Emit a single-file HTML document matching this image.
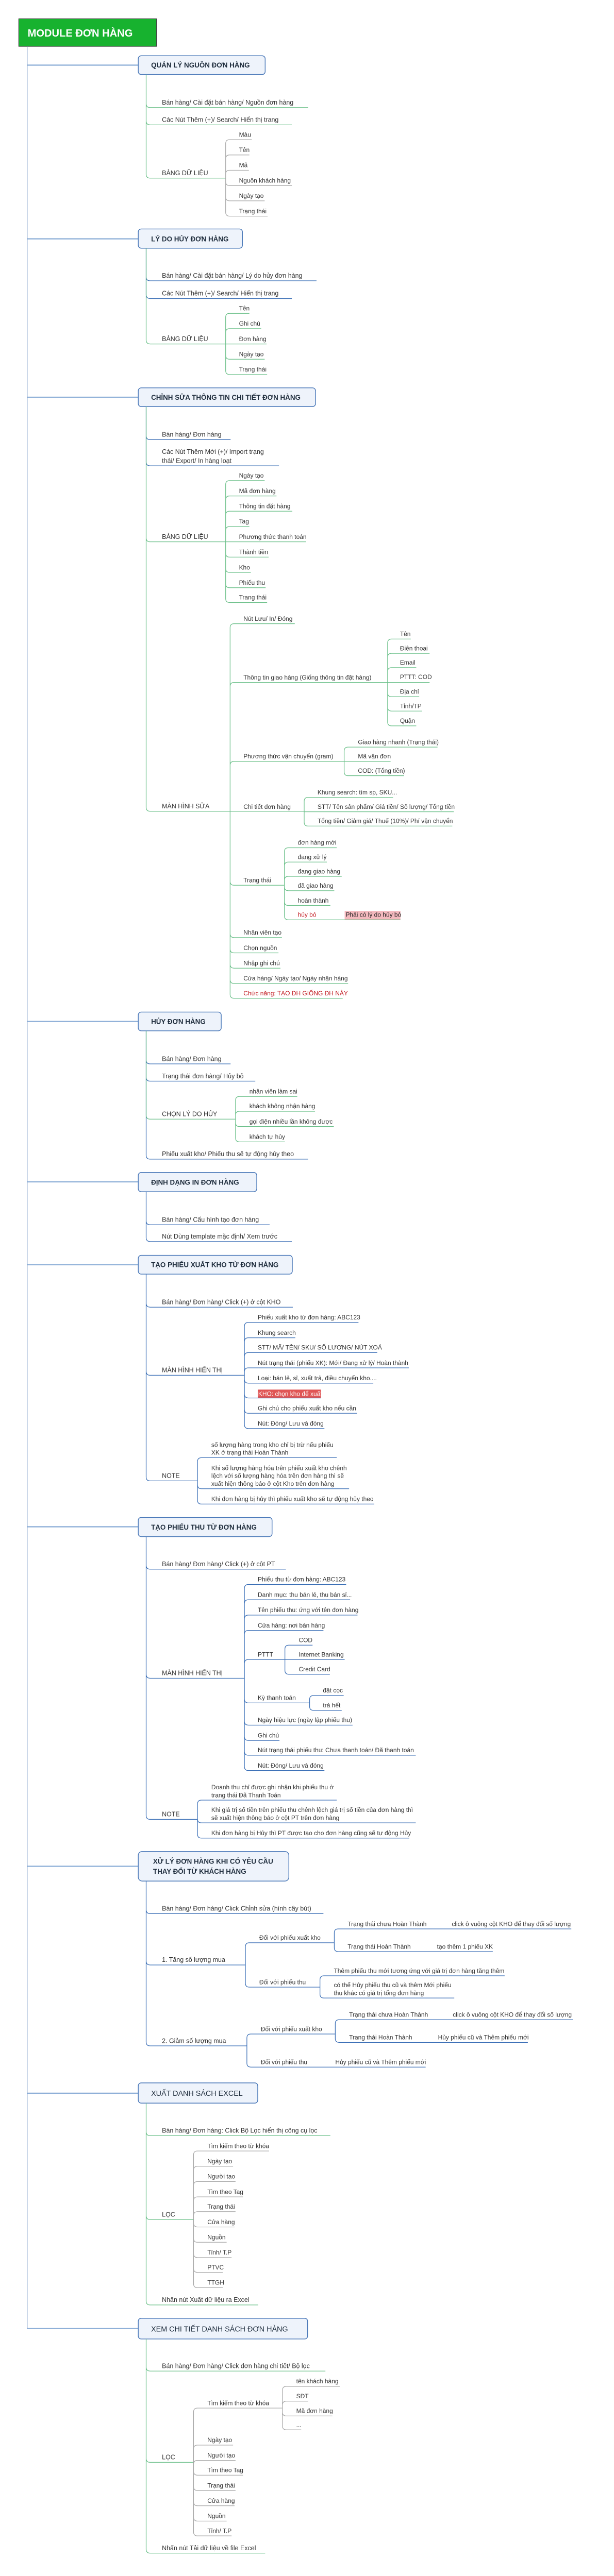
<!DOCTYPE html>
<html><head><meta charset="utf-8">
<style>
html,body{margin:0;padding:0;background:#fff;overflow:hidden;}
svg{display:block;width:1141px;height:4993px;}
text{font-family:"Liberation Sans",Arial,sans-serif;fill:#333;}
.t{font-size:12.5px;}
.t2{font-size:13px;}
.bx{font-size:14px;font-weight:bold;fill:#1f2d3d;}
.bn{font-size:15px;fill:#1f2d3d;}
.g{fill:none;stroke:#6cc08a;stroke-width:1.3;}
.b{fill:none;stroke:#3b6fb6;stroke-width:1.3;}
.y{fill:none;stroke:#a3a3a3;stroke-width:1.2;}
.m{fill:none;stroke:#8fb0d8;stroke-width:2.5;}
.box{fill:#eef3fb;stroke:#4a78b8;stroke-width:1.5;}
.red{fill:#c0141b;}
</style></head><body>
<svg viewBox="0 0 1191 5213" preserveAspectRatio="xMinYMin meet" xmlns="http://www.w3.org/2000/svg">
<rect x="38" y="38" width="279" height="56" fill="#17b22f" stroke="#3a3a3a" stroke-width="1.2"/>
<text x="56" y="74" style="font-size:21px;font-weight:bold;fill:#fff">MODULE ĐƠN HÀNG</text>
<path d="M55 94V4719" fill="none" stroke="#6f8fc0" stroke-width="1.2"/>
<path class="m" d="M55 132H280M55 484H280M55 805H280M55 2070H280M55 2395H280M55 2563H280M55 3094H280M55 3782H280M55 4242H280M55 4719H280"/>

<rect class="box" x="280" y="113" width="257" height="38" rx="6"/>
<text class="bx" x="306" y="137">QUẢN LÝ NGUỒN ĐƠN HÀNG</text>
<path class="g" d="M296 151V210Q296 218 304 218H624M296 151V245Q296 253 304 253H591M296 151V353Q296 361 304 361H457"/>
<text class="t2" x="328" y="212">Bán hàng/ Cài đặt bán hàng/ Nguồn đơn hàng</text>
<text class="t2" x="328" y="247">Các Nút Thêm (+)/ Search/ Hiển thị trang</text>
<text class="t2" x="328" y="355">BẢNG DỮ LIỆU</text>
<path class="y" d="M457 361V291Q457 283 465 283H510M457 361V322Q457 314 465 314H505M457 361V353Q457 345 465 345H504M457 361V368Q457 376 465 376H591M457 361V399Q457 407 465 407H536M457 361V430Q457 438 465 438H542"/>
<text class="t" x="484" y="277">Màu</text>
<text class="t" x="484" y="308">Tên</text>
<text class="t" x="484" y="339">Mã</text>
<text class="t" x="484" y="370">Nguồn khách hàng</text>
<text class="t" x="484" y="401">Ngày tạo</text>
<text class="t" x="484" y="432">Trạng thái</text>

<rect class="box" x="280" y="464" width="211" height="39" rx="6"/>
<text class="bx" x="306" y="489">LÝ DO HỦY ĐƠN HÀNG</text>
<path class="b" d="M296 503V561Q296 569 304 569H641M296 503V597Q296 605 304 605H591"/>
<path class="g" d="M296 503V689Q296 697 304 697H457"/>
<text class="t2" x="328" y="563">Bán hàng/ Cài đặt bán hàng/ Lý do hủy đơn hàng</text>
<text class="t2" x="328" y="599">Các Nút Thêm (+)/ Search/ Hiển thị trang</text>
<text class="t2" x="328" y="691">BẢNG DỮ LIỆU</text>
<path class="g" d="M457 697V643Q457 635 465 635H505M457 697V674Q457 666 465 666H529M457 697H540M457 697V720Q457 728 465 728H536M457 697V751Q457 759 465 759H541"/>
<text class="t" x="484" y="629">Tên</text>
<text class="t" x="484" y="660">Ghi chú</text>
<text class="t" x="484" y="691">Đơn hàng</text>
<text class="t" x="484" y="722">Ngày tạo</text>
<text class="t" x="484" y="753">Trạng thái</text>

<rect class="box" x="280" y="786" width="359" height="38" rx="6"/>
<text class="bx" x="306" y="810">CHỈNH SỬA THÔNG TIN CHI TIẾT ĐƠN HÀNG</text>
<path class="b" d="M296 824V883Q296 891 304 891H467M296 824V936Q296 944 304 944H565"/>
<path class="g" d="M296 824V1090Q296 1098 304 1098H457M296 824V1636Q296 1644 304 1644H466"/>
<text class="t2" x="328" y="885">Bán hàng/ Đơn hàng</text>
<text class="t2" x="328" y="920">Các Nút Thêm Mới (+)/ Import trạng</text>
<text class="t2" x="328" y="938">thái/ Export/ In hàng loạt</text>
<text class="t2" x="328" y="1092">BẢNG DỮ LIỆU</text>
<path class="g" d="M457 1098V982Q457 974 465 974H536M457 1098V1013Q457 1005 465 1005H560M457 1098V1044Q457 1036 465 1036H592M457 1098V1075Q457 1067 465 1067H505M457 1098H620M457 1098V1121Q457 1129 465 1129H544M457 1098V1152Q457 1160 465 1160H508M457 1098V1183Q457 1191 465 1191H538M457 1098V1213Q457 1221 465 1221H541"/>
<text class="t" x="484" y="968">Ngày tạo</text>
<text class="t" x="484" y="999">Mã đơn hàng</text>
<text class="t" x="484" y="1030">Thông tin đặt hàng</text>
<text class="t" x="484" y="1061">Tag</text>
<text class="t" x="484" y="1092">Phương thức thanh toán</text>
<text class="t" x="484" y="1123">Thành tiền</text>
<text class="t" x="484" y="1154">Kho</text>
<text class="t" x="484" y="1185">Phiếu thu</text>
<text class="t" x="484" y="1215">Trạng thái</text>
<text class="t2" x="328" y="1638">MÀN HÌNH SỬA</text>
<path class="g" d="M466 1644V1272Q466 1264 474 1264H597M466 1644V1391Q466 1383 474 1383H785M466 1644V1551Q466 1543 474 1543H697M466 1644H616M466 1644V1786Q466 1794 474 1794H576M466 1644V1892Q466 1900 474 1900H571M466 1644V1923Q466 1931 474 1931H564M466 1644V1954Q466 1962 474 1962H568M466 1644V1985Q466 1993 474 1993H705M466 1644V2015Q466 2023 474 2023H694"/>
<text class="t" x="493" y="1258">Nút Lưu/ In/ Đóng</text>
<text class="t" x="493" y="1377">Thông tin giao hàng (Giống thông tin đặt hàng)</text>
<text class="t" x="493" y="1537">Phương thức vận chuyển (gram)</text>
<text class="t" x="493" y="1639">Chi tiết đơn hàng</text>
<text class="t" x="493" y="1788">Trạng thái</text>
<text class="t" x="493" y="1894">Nhân viên tạo</text>
<text class="t" x="493" y="1925">Chọn nguồn</text>
<text class="t" x="493" y="1956">Nhập ghi chú</text>
<text class="t" x="493" y="1987">Cửa hàng/ Ngày tạo/ Ngày nhận hàng</text>
<text class="t red" x="493" y="2017">Chức năng: TẠO ĐH GIỐNG ĐH NÀY</text>
<path class="g" d="M785 1383V1303Q785 1295 793 1295H832M785 1383V1332Q785 1324 793 1324H870M785 1383V1361Q785 1353 793 1353H843M785 1383H870M785 1383V1404Q785 1412 793 1412H849M785 1383V1433Q785 1441 793 1441H855M785 1383V1463Q785 1471 793 1471H843"/>
<text class="t" x="810" y="1289">Tên</text>
<text class="t" x="810" y="1318">Điện thoại</text>
<text class="t" x="810" y="1347">Email</text>
<text class="t" x="810" y="1376">PTTT: COD</text>
<text class="t" x="810" y="1406">Địa chỉ</text>
<text class="t" x="810" y="1435">Tỉnh/TP</text>
<text class="t" x="810" y="1465">Quận</text>
<path class="g" d="M697 1543V1522Q697 1514 705 1514H886M697 1543H791M697 1543V1564Q697 1572 705 1572H818"/>
<text class="t" x="725" y="1508">Giao hàng nhanh (Trạng thái)</text>
<text class="t" x="725" y="1537">Mã vận đơn</text>
<text class="t" x="725" y="1566">COD: (Tổng tiền)</text>
<path class="g" d="M616 1645V1624Q616 1616 624 1616H796M616 1645H919M616 1645V1666Q616 1674 624 1674H916"/>
<text class="t" x="643" y="1610">Khung search: tìm sp, SKU...</text>
<text class="t" x="643" y="1639">STT/ Tên sản phẩm/ Giá tiền/ Số lượng/ Tổng tiền</text>
<text class="t" x="643" y="1668">Tổng tiền/ Giảm giá/ Thuế (10%)/ Phí vận chuyển</text>
<rect x="698" y="1846" width="113" height="18" fill="#f4b9be"/>
<path class="g" d="M576 1794V1726Q576 1718 584 1718H682M576 1794V1755Q576 1747 584 1747H662M576 1794V1784Q576 1776 584 1776H692M576 1794V1797Q576 1805 584 1805H677M576 1794V1827Q576 1835 584 1835H669M576 1794V1856Q576 1864 584 1864H811"/>
<text class="t" x="603" y="1712">đơn hàng mới</text>
<text class="t" x="603" y="1741">đang xử lý</text>
<text class="t" x="603" y="1770">đang giao hàng</text>
<text class="t" x="603" y="1799">đã giao hàng</text>
<text class="t" x="603" y="1829">hoàn thành</text>
<text class="t red" x="603" y="1858">hủy bỏ</text>
<text class="t" x="700" y="1858" style="fill:#222">Phải có lý do hủy bỏ</text>

<rect class="box" x="280" y="2051" width="168" height="38" rx="6"/>
<text class="bx" x="306" y="2075">HỦY ĐƠN HÀNG</text>
<path class="b" d="M296 2089V2148Q296 2156 304 2156H467M296 2089V2183Q296 2191 304 2191H517M296 2089V2341Q296 2349 304 2349H624"/>
<path class="g" d="M296 2089V2260Q296 2268 304 2268H477"/>
<text class="t2" x="328" y="2150">Bán hàng/ Đơn hàng</text>
<text class="t2" x="328" y="2185">Trạng thái đơn hàng/ Hủy bỏ</text>
<text class="t2" x="328" y="2262">CHỌN LÝ DO HỦY</text>
<text class="t2" x="328" y="2343">Phiếu xuất kho/ Phiếu thu sẽ tự động hủy theo</text>
<path class="g" d="M477 2268V2230Q477 2222 485 2222H602M477 2268V2260Q477 2252 485 2252H638M477 2268V2275Q477 2283 485 2283H676M477 2268V2306Q477 2314 485 2314H577"/>
<text class="t" x="505" y="2216">nhân viên làm sai</text>
<text class="t" x="505" y="2246">khách không nhận hàng</text>
<text class="t" x="505" y="2277">gọi điện nhiều lần không được</text>
<text class="t" x="505" y="2308">khách tự hủy</text>

<rect class="box" x="280" y="2376" width="240" height="39" rx="6"/>
<text class="bx" x="306" y="2401">ĐỊNH DẠNG IN ĐƠN HÀNG</text>
<path class="b" d="M296 2415V2474Q296 2482 304 2482H546M296 2415V2508Q296 2516 304 2516H591"/>
<text class="t2" x="328" y="2476">Bán hàng/ Cấu hình tạo đơn hàng</text>
<text class="t2" x="328" y="2510">Nút Dùng template mặc định/ Xem trước</text>

<rect class="box" x="280" y="2544" width="312" height="38" rx="6"/>
<text class="bx" x="306" y="2568">TẠO PHIẾU XUẤT KHO TỪ ĐƠN HÀNG</text>
<path class="b" d="M296 2582V2641Q296 2649 304 2649H593M296 2582V2779Q296 2787 304 2787H495M296 2582V2993Q296 3001 304 3001H400"/>
<text class="t2" x="328" y="2643">Bán hàng/ Đơn hàng/ Click (+) ở cột KHO</text>
<text class="t2" x="328" y="2781">MÀN HÌNH HIỂN THỊ</text>
<text class="t2" x="328" y="2995">NOTE</text>
<rect x="522" y="2816" width="128" height="17" fill="#e05555"/>
<path class="b" d="M495 2787V2688Q495 2680 503 2680H726M495 2787V2719Q495 2711 503 2711H598M495 2787V2749Q495 2741 503 2741H764M495 2787V2780Q495 2772 503 2772H828M495 2787V2795Q495 2803 503 2803H756M495 2787V2825Q495 2833 503 2833H650M495 2787V2856Q495 2864 503 2864H723M495 2787V2887Q495 2895 503 2895H657"/>
<text class="t" x="522" y="2674">Phiếu xuất kho từ đơn hàng: ABC123</text>
<text class="t" x="522" y="2705">Khung search</text>
<text class="t" x="522" y="2735">STT/ MÃ/ TÊN/ SKU/ SỐ LƯỢNG/ NÚT XOÁ</text>
<text class="t" x="522" y="2766">Nút trạng thái (phiếu XK): Mới/ Đang xử lý/ Hoàn thành</text>
<text class="t" x="522" y="2797">Loại: bán lẻ, sỉ, xuất trả, điều chuyển kho....</text>
<text class="t" x="523" y="2829" style="fill:#fff">KHO: chọn kho để xuất</text>
<text class="t" x="522" y="2858">Ghi chú cho phiếu xuất kho nếu cần</text>
<text class="t" x="522" y="2889">Nút: Đóng/ Lưu và đóng</text>
<path class="b" d="M400 3001V2962Q400 2954 408 2954H682M400 3001V3009Q400 3017 408 3017H707M400 3001V3040Q400 3048 408 3048H758"/>
<text class="t" x="428" y="2932">số lượng hàng trong kho chỉ bị trừ nếu phiếu</text>
<text class="t" x="428" y="2948">XK ở trạng thái Hoàn Thành</text>
<text class="t" x="428" y="2979">Khi số lượng hàng hóa trên phiếu xuất kho chênh</text>
<text class="t" x="428" y="2995">lệch với số lượng hàng hóa trên đơn hàng thì sẽ</text>
<text class="t" x="428" y="3011">xuất hiện thông báo ở cột Kho trên đơn hàng</text>
<text class="t" x="428" y="3042">Khi đơn hàng bị hủy thì phiếu xuất kho sẽ tự động hủy theo</text>

<rect class="box" x="280" y="3075" width="271" height="39" rx="6"/>
<text class="bx" x="306" y="3100">TẠO PHIẾU THU TỪ ĐƠN HÀNG</text>
<path class="b" d="M296 3114V3172Q296 3180 304 3180H579M296 3114V3393Q296 3401 304 3401H495M296 3114V3679Q296 3687 304 3687H400"/>
<text class="t2" x="328" y="3174">Bán hàng/ Đơn hàng/ Click (+) ở cột PT</text>
<text class="t2" x="328" y="3395">MÀN HÌNH HIỂN THỊ</text>
<text class="t2" x="328" y="3681">NOTE</text>
<path class="b" d="M495 3401V3219Q495 3211 503 3211H701M495 3401V3250Q495 3242 503 3242H709M495 3401V3281Q495 3273 503 3273H724M495 3401V3312Q495 3304 503 3304H655M495 3401V3371Q495 3363 503 3363H577M495 3401V3443Q495 3451 503 3451H627M495 3401V3488Q495 3496 503 3496H714M495 3401V3519Q495 3527 503 3527H566M495 3401V3549Q495 3557 503 3557H842M495 3401V3580Q495 3588 503 3588H657"/>
<text class="t" x="522" y="3205">Phiếu thu từ đơn hàng: ABC123</text>
<text class="t" x="522" y="3236">Danh mục: thu bán lẻ, thu bán sỉ...</text>
<text class="t" x="522" y="3267">Tên phiếu thu: ứng với tên đơn hàng</text>
<text class="t" x="522" y="3298">Cửa hàng: nơi bán hàng</text>
<text class="t" x="522" y="3357">PTTT</text>
<text class="t" x="522" y="3445">Kỳ thanh toán</text>
<text class="t" x="522" y="3490">Ngày hiệu lực (ngày lập phiếu thu)</text>
<text class="t" x="522" y="3521">Ghi chú</text>
<text class="t" x="522" y="3551">Nút trạng thái phiếu thu: Chưa thanh toán/ Đã thanh toán</text>
<text class="t" x="522" y="3582">Nút: Đóng/ Lưu và đóng</text>
<path class="b" d="M577 3363V3342Q577 3334 585 3334H633M577 3363H698M577 3363V3385Q577 3393 585 3393H668"/>
<text class="t" x="605" y="3328">COD</text>
<text class="t" x="605" y="3357">Internet Banking</text>
<text class="t" x="605" y="3387">Credit Card</text>
<path class="b" d="M627 3451V3444Q627 3436 635 3436H696M627 3451V3458Q627 3466 635 3466H692"/>
<text class="t" x="654" y="3430">đặt cọc</text>
<text class="t" x="654" y="3460">trả hết</text>
<path class="b" d="M400 3687V3656Q400 3648 408 3648H682M400 3687V3686Q400 3694 408 3694H842M400 3687V3717Q400 3725 408 3725H829"/>
<text class="t" x="428" y="3626">Doanh thu chỉ được ghi nhận khi phiếu thu ở</text>
<text class="t" x="428" y="3642">trạng thái Đã Thanh Toán</text>
<text class="t" x="428" y="3672">Khi giá trị số tiền trên phiếu thu chênh lệch giá trị số tiền của đơn hàng thì</text>
<text class="t" x="428" y="3688">sẽ xuất hiện thông báo ở cột PT trên đơn hàng</text>
<text class="t" x="428" y="3719">Khi đơn hàng bị Hủy thì PT được tạo cho đơn hàng cũng sẽ tự động Hủy</text>

<rect class="box" x="280" y="3752" width="305" height="60" rx="8"/>
<text class="bx" x="310" y="3777">XỬ LÝ ĐƠN HÀNG KHI CÓ YÊU CẦU</text>
<text class="bx" x="310" y="3797">THAY ĐỔI TỪ KHÁCH HÀNG</text>
<path class="b" d="M296 3812V3870Q296 3878 304 3878H655M296 3812V3974Q296 3982 304 3982H497M296 3812V4138Q296 4146 304 4146H500"/>
<text class="t2" x="328" y="3872">Bán hàng/ Đơn hàng/ Click Chỉnh sửa (hình cây bút)</text>
<text class="t2" x="328" y="3976">1. Tăng số lượng mua</text>
<text class="t2" x="328" y="4140">2. Giảm số lượng mua</text>
<path class="b" d="M497 3982V3945Q497 3937 505 3937H677M497 3982V4019Q497 4027 505 4027H648"/>
<text class="t" x="525" y="3931">Đối với phiếu xuất kho</text>
<text class="t" x="525" y="4021">Đối với phiếu thu</text>
<path class="b" d="M677 3937V3917Q677 3909 685 3909H1157M677 3937V3947Q677 3955 685 3955H998"/>
<text class="t" x="704" y="3903">Trạng thái chưa Hoàn Thành</text>
<text class="t" x="915" y="3903">click ô vuông cột KHO để thay đổi số lượng</text>
<text class="t" x="704" y="3949">Trạng thái Hoàn Thành</text>
<text class="t" x="885" y="3949">tạo thêm 1 phiếu XK</text>
<path class="b" d="M648 4027V4012Q648 4004 656 4004H1022M648 4027V4041Q648 4049 656 4049H920"/>
<text class="t" x="676" y="3998">Thêm phiếu thu mới tương ứng với giá trị đơn hàng tăng thêm</text>
<text class="t" x="676" y="4027">có thể Hủy phiếu thu cũ và thêm Mới phiếu</text>
<text class="t" x="676" y="4043">thu khác có giá trị tổng đơn hàng</text>
<path class="b" d="M500 4146V4130Q500 4122 508 4122H679M500 4146V4181Q500 4189 508 4189H862"/>
<text class="t" x="528" y="4116">Đối với phiếu xuất kho</text>
<text class="t" x="528" y="4183">Đối với phiếu thu</text>
<text class="t" x="679" y="4183">Hủy phiếu cũ và Thêm phiếu mới</text>
<path class="b" d="M679 4122V4101Q679 4093 687 4093H1160M679 4122V4131Q679 4139 687 4139H1069"/>
<text class="t" x="707" y="4087">Trạng thái chưa Hoàn Thành</text>
<text class="t" x="917" y="4087">click ô vuông cột KHO để thay đổi số lượng</text>
<text class="t" x="707" y="4133">Trạng thái Hoàn Thành</text>
<text class="t" x="887" y="4133">Hủy phiếu cũ và Thêm phiếu mới</text>

<rect class="box" x="280" y="4221" width="242" height="41" rx="6"/>
<text class="bn" x="306" y="4247">XUẤT DANH SÁCH EXCEL</text>
<path class="g" d="M296 4262V4320Q296 4328 304 4328H669M296 4262V4490Q296 4498 304 4498H392M296 4262V4663Q296 4671 304 4671H523"/>
<text class="t2" x="328" y="4322">Bán hàng/ Đơn hàng: Click Bộ Lọc hiển thị công cụ lọc</text>
<text class="t2" x="328" y="4492">LỌC</text>
<text class="t2" x="328" y="4665">Nhấn nút Xuất dữ liệu ra Excel</text>
<path class="y" d="M392 4498V4367Q392 4359 400 4359H545M392 4498V4398Q392 4390 400 4390H472M392 4498V4429Q392 4421 400 4421H477M392 4498V4460Q392 4452 400 4452H492M392 4498V4490Q392 4482 400 4482H477M392 4498V4505Q392 4513 400 4513H475M392 4498V4536Q392 4544 400 4544H459M392 4498V4567Q392 4575 400 4575H469M392 4498V4597Q392 4605 400 4605H451M392 4498V4628Q392 4636 400 4636H451"/>
<text class="t" x="420" y="4353">Tìm kiếm theo từ khóa</text>
<text class="t" x="420" y="4384">Ngày tạo</text>
<text class="t" x="420" y="4415">Người tạo</text>
<text class="t" x="420" y="4446">Tìm theo Tag</text>
<text class="t" x="420" y="4476">Trạng thái</text>
<text class="t" x="420" y="4507">Cửa hàng</text>
<text class="t" x="420" y="4538">Nguồn</text>
<text class="t" x="420" y="4569">Tỉnh/ T.P</text>
<text class="t" x="420" y="4599">PTVC</text>
<text class="t" x="420" y="4630">TTGH</text>

<rect class="box" x="280" y="4698" width="343" height="42" rx="6"/>
<text class="bn" x="306" y="4725">XEM CHI TIẾT DANH SÁCH ĐƠN HÀNG</text>
<path class="g" d="M296 4740V4797Q296 4805 304 4805H659M296 4740V4982Q296 4990 304 4990H392M296 4740V5166Q296 5174 304 5174H537"/>
<text class="t2" x="328" y="4799">Bán hàng/ Đơn hàng/ Click đơn hàng chi tiết/ Bộ lọc</text>
<text class="t2" x="328" y="4984">LỌC</text>
<text class="t2" x="328" y="5168">Nhấn nút Tải dữ liệu về file Excel</text>
<path class="y" d="M392 4990V4888Q392 4880 400 4880H572M392 4990V4963Q392 4955 400 4955H472M392 4990V4994Q392 4986 400 4986H477M392 4990V5008Q392 5016 400 5016H492M392 4990V5039Q392 5047 400 5047H477M392 4990V5070Q392 5078 400 5078H475M392 4990V5101Q392 5109 400 5109H459M392 4990V5131Q392 5139 400 5139H469"/>
<text class="t" x="420" y="4874">Tìm kiếm theo từ khóa</text>
<text class="t" x="420" y="4949">Ngày tạo</text>
<text class="t" x="420" y="4980">Người tạo</text>
<text class="t" x="420" y="5010">Tìm theo Tag</text>
<text class="t" x="420" y="5041">Trạng thái</text>
<text class="t" x="420" y="5072">Cửa hàng</text>
<text class="t" x="420" y="5103">Nguồn</text>
<text class="t" x="420" y="5133">Tỉnh/ T.P</text>
<path class="y" d="M572 4880V4844Q572 4836 580 4836H688M572 4880V4874Q572 4866 580 4866H624M572 4880V4888Q572 4896 580 4896H673M572 4880V4916Q572 4924 580 4924H610"/>
<text class="t" x="600" y="4830">tên khách hàng</text>
<text class="t" x="600" y="4860">SĐT</text>
<text class="t" x="600" y="4890">Mã đơn hàng</text>
<text class="t" x="600" y="4918">...</text>
</svg>
</body></html>
